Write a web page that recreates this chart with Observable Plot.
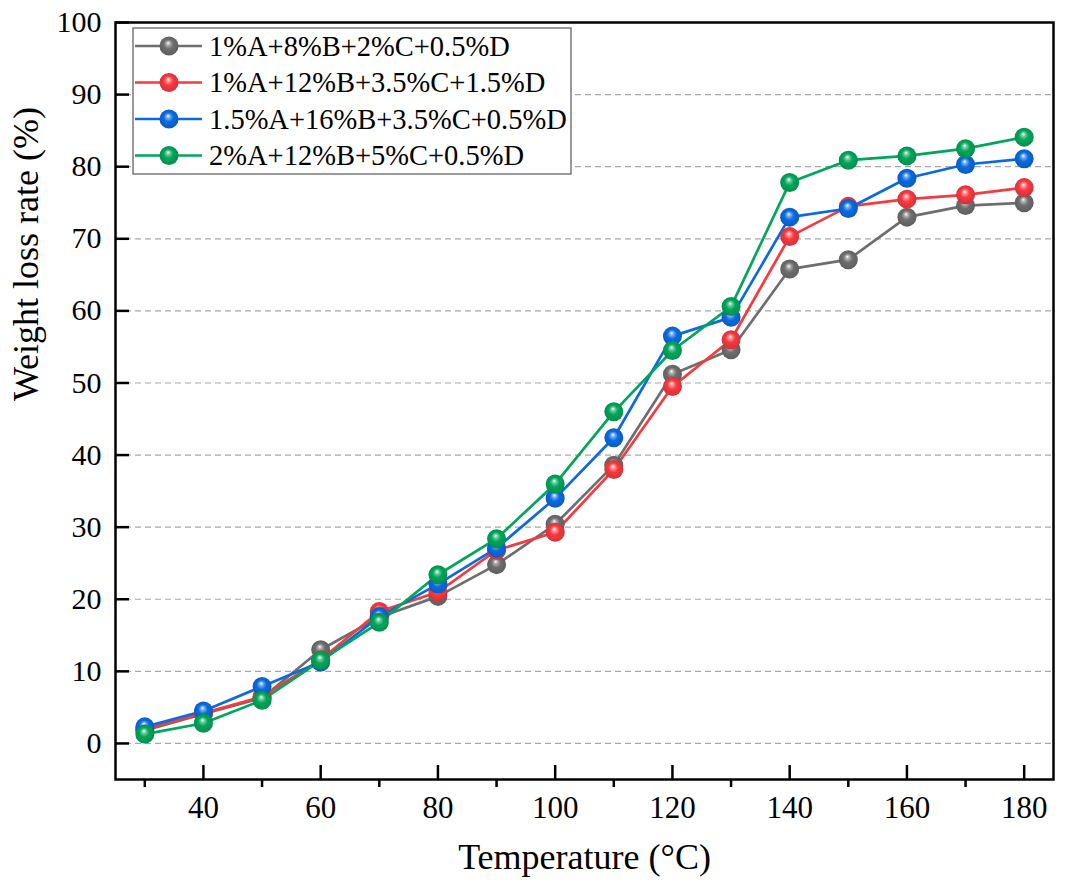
<!DOCTYPE html>
<html>
<head>
<meta charset="utf-8">
<script src="https://cdn.jsdelivr.net/npm/d3@7"></script>
<script src="https://cdn.jsdelivr.net/npm/@observablehq/plot@0.6"></script>
<style>
  html, body { margin: 0; padding: 0; background: #fff; }
  #chart { width: 1066px; height: 896px; }
</style>
</head>
<body>
<div id="chart"></div>
<script>
// ---- data ----
const temperatures = [30, 40, 50, 60, 70, 80, 90, 100, 110, 120, 130, 140, 150, 160, 170, 180];
const seriesNames = [
  "1%A+8%B+2%C+0.5%D",
  "1%A+12%B+3.5%C+1.5%D",
  "1.5%A+16%B+3.5%C+0.5%D",
  "2%A+12%B+5%C+0.5%D"
];
const seriesColors = ["#6e6e6e", "#f8393f", "#0a6be0", "#00a65a"];
const graySeries  = [1.8, 4.1, 6.3, 13.0, 17.5, 20.4, 24.8, 30.4, 38.6, 51.2, 54.6, 65.8, 67.1, 73.0, 74.6, 75.0];
const redSeries   = [2.0, 4.2, 6.5, 11.6, 18.3, 21.0, 26.8, 29.3, 38.0, 49.5, 56.0, 70.3, 74.5, 75.5, 76.1, 77.1];
const blueSeries  = [2.3, 4.5, 7.9, 11.3, 17.6, 22.1, 27.1, 34.0, 42.4, 56.5, 59.1, 73.0, 74.2, 78.4, 80.3, 81.1];
const greenSeries = [1.3, 2.8, 6.0, 11.5, 16.8, 23.4, 28.4, 36.0, 46.0, 54.5, 60.6, 77.8, 80.9, 81.5, 82.5, 84.1];
const allSeries = [graySeries, redSeries, blueSeries, greenSeries];

const yTicks = [0, 10, 20, 30, 40, 50, 60, 70, 80, 90, 100];
const gridTicks = [0, 10, 20, 30, 40, 50, 60, 70, 80, 90];
const xMajorTicks = [40, 60, 80, 100, 120, 140, 160, 180];
const xMinorTicks = [30, 50, 70, 90, 110, 130, 150, 170];
const xTitle = "Temperature (°C)";
const yTitle = "Weight loss rate (%)";

// ---- build table ----
const rows = [];
allSeries.forEach((vals, i) => {
  vals.forEach((v, j) => rows.push({series: seriesNames[i], idx: i, t: temperatures[j], v}));
});

const font = "'Liberation Serif', 'Times New Roman', serif";
const W = 1066, H = 896, mL = 115, mR = 13, mT = 22, mB = 117;
const frameW = W - mL - mR, frameH = H - mT - mB;
const majorLen = 14;

const marks = [
  Plot.gridY(gridTicks, {stroke: "#a8a8a8", strokeOpacity: 1, strokeWidth: 1.2, strokeDasharray: "6,4"}),
  Plot.line(rows, {x: "t", y: "v", z: "series", stroke: "series", strokeWidth: 2.7})
];
seriesNames.forEach((name, i) => {
  marks.push(Plot.dot(rows.filter(d => d.idx === i), {x: "t", y: "v", r: 9.5, fill: `url(#ball${i})`, stroke: "none"}));
});
marks.push(
  // inward major ticks
  Plot.tickY(yTicks, {insetRight: frameW - majorLen, stroke: "#000", strokeWidth: 2.5}),
  Plot.tickX(xMajorTicks, {insetTop: frameH - majorLen, stroke: "#000", strokeWidth: 2.5}),
  // labels
  Plot.axisY(yTicks, {tickSize: 0, tickPadding: 14, fontSize: 30, label: null}),
  Plot.axisX(xMajorTicks, {tickSize: 0, tickPadding: 16, fontSize: 31, label: null}),
  // outward minor ticks
  Plot.axisX(xMinorTicks, {tickSize: 8, tickFormat: () => "", strokeWidth: 2.5, label: null}),
  Plot.frame({stroke: "#000", strokeWidth: 2.5}),
  Plot.text([xTitle], {frameAnchor: "bottom", dy: 89, fontSize: 36, fill: "#000"}),
  Plot.text([yTitle], {frameAnchor: "left", dx: -89, rotate: -90, fontSize: 36, fill: "#000"})
);

const chart = Plot.plot({
  width: W,
  height: H,
  marginLeft: mL,
  marginRight: mR,
  marginTop: mT,
  marginBottom: mB,
  style: {fontFamily: font, fontSize: "30px", color: "#000", background: "#fff"},
  x: {domain: [25, 185], axis: null},
  y: {domain: [-5, 100], axis: null},
  color: {domain: seriesNames, range: seriesColors},
  marks
});

// ---- gradients for glossy markers ----
const svg = d3.select(chart);
const defs = svg.insert("defs", ":first-child");
seriesColors.forEach((c, i) => {
  const base = d3.color(c);
  const g = defs.append("radialGradient").attr("id", `ball${i}`)
    .attr("cx", "50%").attr("cy", "50%").attr("r", "55%")
    .attr("fx", "45%").attr("fy", "33%");
  g.append("stop").attr("offset", "0%").attr("stop-color", "#ffffff");
  g.append("stop").attr("offset", "18%").attr("stop-color", d3.interpolateRgb("#ffffff", c)(0.55));
  g.append("stop").attr("offset", "45%").attr("stop-color", c);
  g.append("stop").attr("offset", "85%").attr("stop-color", base.darker(0.35).formatHex());
  g.append("stop").attr("offset", "100%").attr("stop-color", base.darker(0.6).formatHex());
});

// ---- legend (inside the plot, top-left) ----
const lg = svg.append("g").attr("font-family", font).attr("text-anchor", "start");
const lx = 133, ly = 28, lw = 438, lh = 146;
lg.append("rect").attr("x", lx).attr("y", ly).attr("width", lw).attr("height", lh)
  .attr("fill", "#fff").attr("stroke", "#7a7a7a").attr("stroke-width", 1.5);
seriesNames.forEach((name, i) => {
  const cy = ly + 18 + i * 36.5;
  lg.append("line").attr("x1", lx + 2).attr("x2", lx + 69).attr("y1", cy).attr("y2", cy)
    .attr("stroke", seriesColors[i]).attr("stroke-width", 2.7);
  lg.append("circle").attr("cx", lx + 36).attr("cy", cy).attr("r", 9.5).attr("fill", `url(#ball${i})`);
  lg.append("text").attr("x", lx + 76).attr("y", cy).attr("dy", "0.35em")
    .attr("text-anchor", "start")
    .attr("font-size", 28.5).attr("fill", "#000").text(name);
});

document.getElementById("chart").appendChild(chart);
</script>
</body>
</html>
